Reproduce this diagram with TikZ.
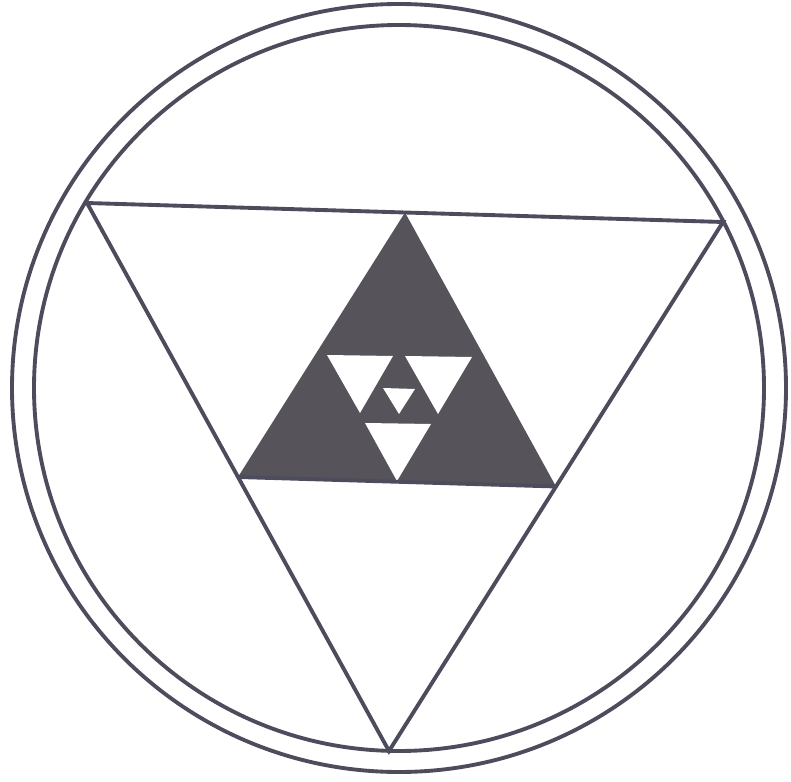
\documentclass[tikz,border=0pt]{standalone}
\usetikzlibrary{calc}
\definecolor{ink}{RGB}{76,76,92}
\definecolor{darkfill}{RGB}{86,84,90}
\begin{document}
\begin{tikzpicture}[x=0.01cm,y=-0.01cm,line width=1.1pt]
\useasboundingbox (0,0) rectangle (791,782);
% double ring
\coordinate (cc) at (399,388);
\draw[ink] (cc) ellipse [x radius=387, y radius=384];
\draw[ink] (cc) ellipse [x radius=365, y radius=363];
% big triangle and its midpoints
\coordinate (tl) at (87,203);
\coordinate (tr) at (723,222);
\coordinate (bt) at (389,751);
\coordinate (ma) at ($(tl)!.5!(tr)$);
\coordinate (mb) at ($(tl)!.5!(bt)$);
\coordinate (mc) at ($(tr)!.5!(bt)$);
\fill[darkfill] (ma) -- (mb) -- (mc) -- cycle;
\foreach \ax/\ay/\bx/\by/\cx/\cy in {327/355/393/356/360/413, 405/356/472/357/438/414,
    365/423/431/424/397/481, 383/388/415/389/399/414}
  \fill[white] (\ax,\ay) -- (\bx,\by) -- (\cx,\cy) -- cycle;
\draw[ink,line join=miter] (tl) -- (tr) -- (bt) -- cycle;
\draw[ink] (mb) -- (mc);
\end{tikzpicture}
\end{document}
